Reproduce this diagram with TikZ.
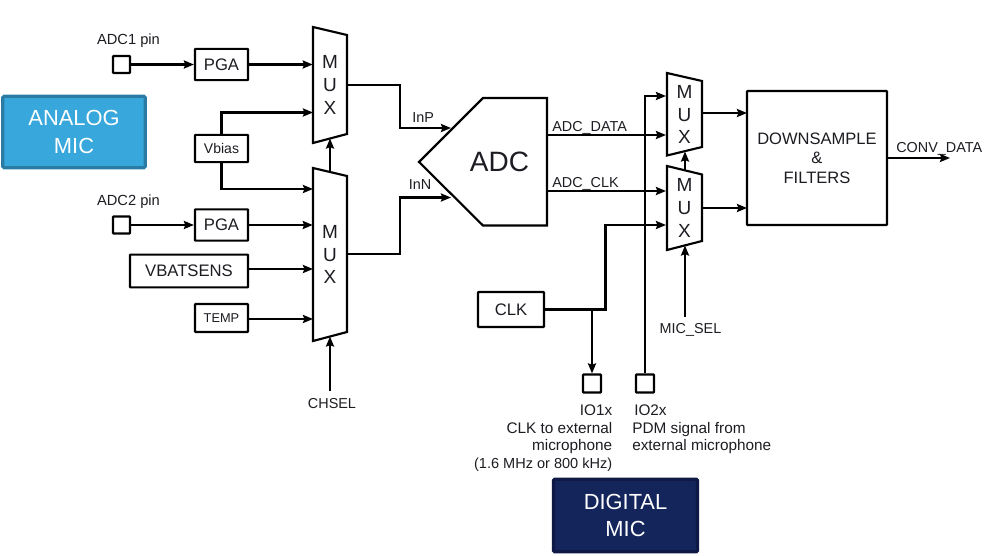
\documentclass[tikz,border=0pt]{standalone}
\usepackage{fontspec}
\setmainfont{Liberation Sans}
\usetikzlibrary{arrows.meta}
\definecolor{inkc}{HTML}{1C1C22}
\definecolor{analogfill}{HTML}{38A7DC}
\definecolor{analogline}{HTML}{2A7CA5}
\definecolor{digitalfill}{HTML}{14255C}
\definecolor{digitalline}{HTML}{0E1A45}
\newcommand{\fsz}[1]{\fontsize{#1}{#1}\selectfont}
\tikzset{
  wire/.style={line width=1.6pt,draw=black},
  arrowwire/.style={wire,-{Stealth[length=7.5pt,width=6pt,inset=1pt]}},
  blockbox/.style={draw=black,line width=1.6pt,fill=white,inner sep=0pt,text=inkc,rounded corners=0.4pt,align=center},
  pinbox/.style={blockbox,minimum width=12.75pt,minimum height=12.75pt},
  shapeline/.style={draw=black,line width=1.6pt,line join=miter,fill=white},
  muxtext/.style={inner sep=0pt,text=inkc,align=center,minimum width=25.5pt,font=\fontsize{14.25}{17}\selectfont},
  lab/.style={inner sep=0pt,text=inkc,font=\fontsize{10.8}{13.1}\selectfont},
  lowlab/.style={inner sep=0pt,text=inkc,font=\fontsize{11.5}{13.1}\selectfont},
  badge/.style={inner sep=0pt,text=white,align=center,line width=2.4pt,rounded corners=1pt,font=\fontsize{16.4}{20.2}\selectfont}
}
\begin{document}
\begin{tikzpicture}[x=0.75pt,y=-0.75pt]
\useasboundingbox (0,0) rectangle (999,556);
% badges
\node[badge,fill=analogfill,draw=analogline,minimum width=107pt,minimum height=53.5pt] (analog) at (74,132) {\raisebox{-0.6pt}{ANALOG}\\[0.3pt]\raisebox{-0.6pt}{MIC}};
\node[badge,fill=digitalfill,draw=digitalline,minimum width=108pt,minimum height=54.5pt] (digital) at (625.5,515.5) {\raisebox{-0.8pt}{DIGITAL}\\\raisebox{-0.8pt}{MIC}};
% muxes
\draw[shapeline] (313,27) -- (347,35) -- (347,134) -- (313,143) -- cycle;
\node[muxtext,minimum height=87pt] (mux1) at (330,85) {M\\U\\X};
\draw[shapeline] (313,168) -- (347,176) -- (347,332) -- (313,341) -- cycle;
\node[muxtext,minimum height=130pt] (mux2) at (330,254.5) {M\\U\\X};
\draw[shapeline] (667,73) -- (702,81) -- (702,147) -- (667,155.5) -- cycle;
\node[muxtext,minimum height=62pt] (mux3) at (684.5,114.5) {M\\U\\X};
\draw[shapeline] (667,166) -- (702,174.5) -- (702,241) -- (667,250) -- cycle;
\node[muxtext,minimum height=63pt] (mux4) at (684.5,208) {M\\U\\X};
% ADC
\draw[shapeline] (419,162) -- (483,98) -- (547,98) -- (547,225.5) -- (483,225.5) -- cycle;
\node[inner sep=0pt,text=inkc,font=\fsz{21},minimum width=64pt,minimum height=95.6pt] (adc) at (499.5,162) {ADC};
% blocks
\node[pinbox] (pin1) at (121.5,64.5) {};
\node[pinbox] (pin2) at (121.5,225) {};
\node[blockbox,font=\fsz{12.5},minimum width=39.75pt,minimum height=23.5pt] (pga1) at (221.5,64.5) {PGA};
\node[blockbox,font=\fsz{12.5},minimum width=39.75pt,minimum height=23.5pt] (pga2) at (221.5,225) {PGA};
\node[blockbox,font=\fsz{10.5},minimum width=39.75pt,minimum height=20.5pt] (vbias) at (221.5,148.5) {Vbias};
\node[blockbox,font=\fsz{12.5},minimum width=88.5pt,minimum height=24.5pt] (vbat) at (189,271) {VBATSENS};
\node[blockbox,font=\fsz{9.6},minimum width=39.75pt,minimum height=21pt] (temp) at (221.5,318) {TEMP};
\node[blockbox,font=\fsz{12.5},minimum width=49.5pt,minimum height=26.25pt] (clk) at (511,309.5) {CLK};
\node[pinbox,minimum width=13.5pt,minimum height=13.5pt] (io1) at (592,383.5) {};
\node[pinbox,minimum width=13.5pt,minimum height=13.5pt] (io2) at (645,383.5) {};
\node[blockbox,font=\fsz{12.4},minimum width=105pt,minimum height=100.5pt,align=center] (dsf) at (817,158) {\raisebox{-0.7pt}{DOWNSAMPLE}\\[2.2pt]\raisebox{-0.7pt}{\&}\\[2.2pt]\raisebox{-0.7pt}{FILTERS}};
% free ends
\coordinate (vbiasup) at (313,112.5);
\coordinate (vbiasdn) at (313,189);
\coordinate (m2top) at (330,172);
\coordinate (m1bot) at (330,138.5);
\coordinate (m2bot) at (330,336.5);
\coordinate (chsel) at (330,391);
\coordinate (inp) at (451,128);
\coordinate (inn) at (451,197.5);
\coordinate (m4top) at (685,170);
\coordinate (m3bot) at (685,151.5);
\coordinate (m4bot) at (685,245.5);
\coordinate (micsel) at (685,317);
\coordinate (clkout) at (592,309.5);
\coordinate (convend) at (950,158);
% connectors
\draw[arrowwire] (pin1.east) -- (pga1.west);
\draw[arrowwire] (pin2.east) -- (pga2.west);
\draw[arrowwire] (pga1.east) -- (pga1.east -| mux1.west);
\draw[arrowwire] (pga2.east) -- (pga2.east -| mux2.west);
\draw[arrowwire] (vbat.east |- 0,269) -- (313,269);
\draw[arrowwire] (temp.east |- 0,319) -- (313,319);
\draw[arrowwire] (vbias.north) |- (vbiasup);
\draw[arrowwire] (vbias.south) |- (vbiasdn);
\draw[arrowwire] (m2top) -- (m1bot);
\draw[arrowwire] (chsel) -- (m2bot);
\draw[arrowwire] (347,85) -- (400,85) -- (400,128) -- (inp);
\draw[arrowwire] (347,254) -- (400,254) -- (400,197.5) -- (inn);
\draw[arrowwire] (547,135) -- (666,135);
\draw[arrowwire] (547,191) -- (666,191);
\draw[arrowwire] (io2.north) -- (io2.north |- 0,96) -- (666,96);
\draw[arrowwire] (clk.east) -- (605.5,309.5) -- (605.5,225) -- (666,225);
\draw[arrowwire] (clkout) -- (io1.north);
\draw[arrowwire] (m4top) -- (m3bot);
\draw[arrowwire] (micsel) -- (m4bot);
\draw[arrowwire] (702,113) -- (747,113);
\draw[arrowwire] (702,208) -- (747,208);
\draw[arrowwire] (dsf.east) -- (convend);
% labels
\node[lab,anchor=base,font=\fsz{11}] (adc1lab) at (128.5,45) {ADC1 pin};
\node[lab,anchor=base,font=\fsz{11}] (adc2lab) at (128.5,205) {ADC2 pin};
\node[lab,anchor=base west] (inplab) at (412,123) {InP};
\node[lab,anchor=base west] (innlab) at (408.5,190) {InN};
\node[lab,anchor=base west] (datalab) at (552,131.5) {ADC\_DATA};
\node[lab,anchor=base west] (clklab) at (552,187) {ADC\_CLK};
\node[lab,anchor=base west] (convlab) at (896,152) {CONV\_DATA};
\node[lab,anchor=base] (micsellab) at (690.5,333) {MIC\_SEL};
\node[lab,anchor=base] (chsellab) at (332,408) {CHSEL};
\node[lowlab,anchor=north east,align=right] (io1lab) at (612.5,405) {IO1x\hspace{1.5pt}\\CLK to external\\microphone\\{\fontsize{10.9}{13.1}\selectfont (1.6 MHz or 800 kHz)}};
\node[lowlab,anchor=north west,align=left] (io2lab) at (632,405) {\hspace{1.5pt}IO2x\\PDM signal from\\external microphone};
\end{tikzpicture}
\end{document}
